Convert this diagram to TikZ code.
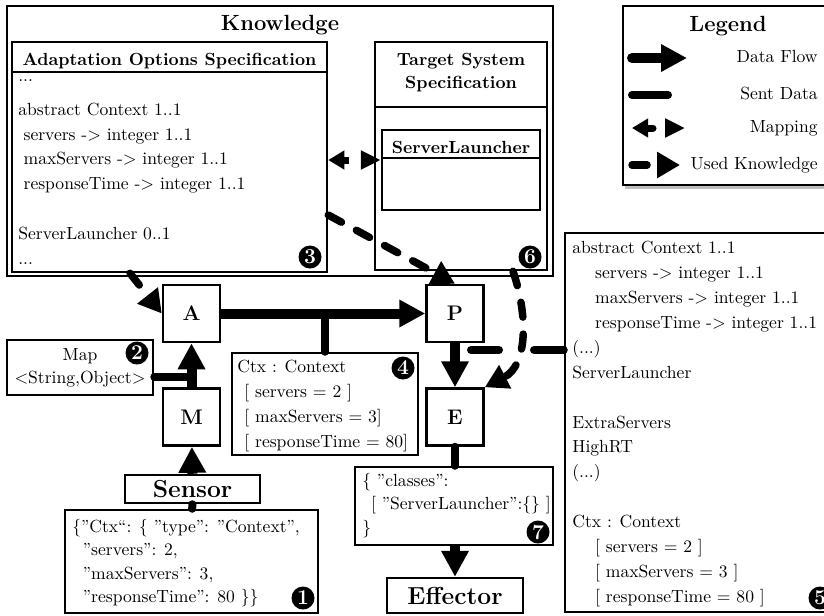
\documentclass[tikz,border=0pt]{standalone}
\usepackage{tikz}
\usetikzlibrary{arrows.meta, shadows}

\newcommand*{\indentA}{\hspace{13pt}}

\tikzset{
  box/.style={draw, line width=0.5mm, inner sep=0pt},
  loopbox/.style={box, minimum size=11.4mm, font=\fontsize{12}{14}\selectfont\bfseries},
  bigbox/.style={box, font=\fontsize{14}{16}\selectfont\bfseries},
  txt/.style={inner sep=0pt, align=left, anchor=north west, font=\fontsize{10}{14.2}\selectfont},
  tighttxt/.style={txt, font=\fontsize{10}{13.3}\selectfont},
  head/.style={inner sep=0pt, font=\bfseries},
  title/.style={inner sep=0pt, anchor=base, font=\fontsize{12.5}{15}\selectfont\bfseries},
  num/.style={circle, fill=black, text=white, inner sep=0pt, minimum size=4.6mm,
    font=\fontsize{12}{12}\selectfont\bfseries},
  flow/.style={line width=2mm, -{Triangle[length=5.2mm, width=5.2mm]}},
  sent/.style={line width=1.6mm, line cap=round},
  used/.style={line width=1.5mm, line cap=round, dash pattern=on 3mm off 3.4mm,
    -{Triangle[length=4.6mm, width=5mm]}},
  mapping/.style={line width=1.4mm, dash pattern=on 1.2mm off 5mm,
    {Triangle[length=3.2mm, width=3.6mm]}-{Triangle[length=4mm, width=3.6mm]}}
}

\begin{document}
\begin{tikzpicture}[x=0.2mm, y=-0.2mm]
  \useasboundingbox (0,0) rectangle (824,615);

  % Knowledge
  \node[box, minimum width=109.2mm, minimum height=54mm] (know) at (280,141) {};
  \node[title] (knowtitle) at (280,30) {Knowledge};

  \node[box, minimum width=63mm, minimum height=46mm] (aos) at (169.5,157) {};
  \draw[line width=0.5mm] (aos.west |- 0,72) -- (aos.east |- 0,72);
  \node[head, anchor=base] (aostitle) at (169.5,65) {Adaptation Options Specification};
  \node[txt] (aostxt) at (18,63.5) {\strut...\\[5pt]
    abstract Context 1..1\\
    \hspace{3pt}servers -> integer 1..1\\
    \hspace{3pt}maxServers -> integer 1..1\\
    \hspace{3pt}responseTime -> integer 1..1\\
    \mbox{}\\
    ServerLauncher 0..1\\
    ...};

  \node[box, minimum width=34.4mm, minimum height=45.6mm] (tss) at (461,156) {};
  \draw[line width=0.5mm] (tss.west |- 0,107) -- (tss.east |- 0,107);
  \node[head, align=center, anchor=north, font=\fontsize{10}{13.1}\selectfont\bfseries]
    (tsstitle) at (461,48.9) {\strut Target System\\Specification};
  \node[box, minimum width=31.6mm, minimum height=16mm] (sl) at (461,170) {};
  \draw[line width=0.5mm] (sl.west |- 0,158) -- (sl.east |- 0,158);
  \node[head, anchor=base] (sltitle) at (461,153) {ServerLauncher};

  \draw[mapping] (aos.east |- 0,160) -- (sl.west |- 0,160);

  % Legend
  \node[box, fill=white, drop shadow={shadow xshift=0.4mm, shadow yshift=-0.8mm},
    minimum width=42.2mm, minimum height=35.8mm] (legend) at (728.5,95.5) {};
  \node[title] (legtitle) at (728,31) {Legend};
  \foreach \sty/\name/\y/\ex [count=\i] in
    {flow/Data Flow/58/687, sent/Sent Data/95/668, mapping/Mapping/128/685, used/Used Knowledge/165/680} {
    \coordinate (ls\i) at (632,\y);
    \coordinate (le\i) at (\ex,\y);
    \draw[\sty, line cap=round] (ls\i) -- (le\i);
    \node[inner sep=0pt, anchor=base east] (leg\i) at (818,\y+4) {\name};
  }

  % MAPE loop
  \node[loopbox] (A) at (191.5,313.5) {A};
  \node[loopbox] (M) at (191.5,417) {M};
  \node[loopbox] (P) at (455,313.5) {P};
  \node[loopbox] (E) at (455,417) {E};

  \node[box, minimum width=29.2mm, minimum height=11mm, align=center,
    font=\fontsize{10}{13.1}\selectfont] (map) at (80,367.5) {Map\\$<$String,Object$>$};

  \node[bigbox, minimum width=27mm, minimum height=5.6mm] (sensor) at (192.5,489) {Sensor};
  \node[bigbox, minimum width=27.2mm, minimum height=7mm] (effector) at (455,595.5) {Effector};

  \node[box, minimum width=50.6mm, minimum height=20.6mm] (json) at (191.5,561.5) {};
  \node[tighttxt] (jsontxt) at (72,515.6) {\strut\{"Ctx“: \{ "type": "Context",\\
    \hspace{6pt}"servers": 2,\\
    \hspace{6pt}"maxServers": 3,\\
    \hspace{6pt}"responseTime": 80 \}\}};

  \node[box, minimum width=37.2mm, minimum height=20.4mm] (ctx) at (325,404) {};
  \node[txt] (ctxtxt) at (237,354.5) {\strut Ctx : Context\\
    \hspace{4pt}[ servers = 2 ]\\
    \hspace{4pt}[ maxServers = 3]\\
    \hspace{4pt}[ responseTime = 80]};

  \node[box, minimum width=39.6mm, minimum height=15.6mm] (cls) at (454,506) {};
  \node[tighttxt] (clstxt) at (362,469.6) {\strut\{ "classes":\\
    \hspace{5pt}[ "ServerLauncher":\{\} ]\\
    \}};

  \node[box, minimum width=54.2mm, minimum height=75.8mm] (model) at (700.5,422.5) {};
  \node[txt] (modeltxt) at (572,235.5) {\strut abstract Context 1..1\\
    \indentA servers -> integer 1..1\\
    \indentA maxServers -> integer 1..1\\
    \indentA responseTime -> integer 1..1\\
    (...)\\
    ServerLauncher\\
    \mbox{}\\
    ExtraServers\\
    HighRT\\
    (...)\\
    \mbox{}\\
    Ctx : Context\\
    \indentA[ servers = 2 ]\\
    \indentA[ maxServers = 3 ]\\
    \indentA[ responseTime = 80 ]};

  % connectors
  \draw[flow] (A) -- (P);
  \draw[flow] (M) -- (A);
  \draw[flow] (sensor) -- (M);
  \draw[flow] (P) -- (E);
  \draw[flow] (cls.south -| effector) -- (effector);

  \draw[sent] (ctx.north) -- (ctx.north |- A.east);
  \draw[sent] (sensor) -- (json);
  \draw[sent] (E) -- (E |- cls.north);
  \draw[sent] (map.east |- 0,377) -- (A.south |- 0,377);
  \coordinate (gapR) at (534,350);
  \coordinate (gapL) at (499,350);
  \coordinate (sentend) at (471,350);
  \draw[sent] (model.west |- gapR) -- (gapR);
  \draw[sent] (gapL) -- (sentend);

  \draw[used] (aos.south -| 130,0) -- (A.west);
  \draw[used] (aos.east |- 0,215) -- (P.north);
  \draw[used] (tss.south -| 513,0) .. controls (528,315) and (528,365) .. (E.north east);

  % numbers
  \node[num] (n1) at (303,598) {1};
  \node[num] (n2) at (137,353) {2};
  \node[num] (n3) at (310,257) {3};
  \node[num] (n4) at (403,368) {4};
  \node[num] (n5) at (820,598) {5};
  \node[num] (n6) at (530,257) {6};
  \node[num] (n7) at (538,532) {7};
\end{tikzpicture}
\end{document}
